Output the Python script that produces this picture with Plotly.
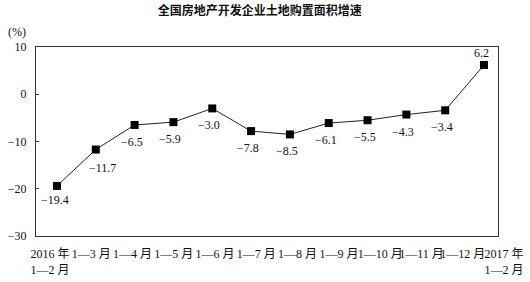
import plotly.graph_objects as go

categories = ["2016 年<br>1—2 月", "1—3 月", "1—4 月", "1—5 月", "1—6 月", "1—7 月",
              "1—8 月", "1—9 月", "1—10 月", "1—11 月", "1—12 月", "2017 年<br>1—2 月"]
values = [-19.4, -11.7, -6.5, -5.9, -3.0, -7.8, -8.5, -6.1, -5.5, -4.3, -3.4, 6.2]
y_ticks = [10, 0, -10, -20, -30]
y_tick_text = ["10", "0", "−10", "−20", "−30"]

# label placement style (pixel offsets from each marker)
label_offsets = [(-2, -14), (7, -18)] + [(-3, -17)] * 9 + [(-3, 12)]

W, H = 530, 282
left_px, right_px = 36, 498
idx = list(range(len(categories)))
data_range = [-0.54, 11.36]

serif = "Liberation Serif, Times New Roman, Noto Sans CJK SC, serif"
ink = "#111111"

fig = go.Figure()
# invisible trace to activate the category label axis (drawn first, below)
fig.add_trace(go.Scatter(x=idx, y=[None] * len(idx), xaxis="x2", yaxis="y",
                         mode="markers", showlegend=False, hoverinfo="skip"))
fig.add_trace(go.Scatter(
    x=idx, y=values, mode="lines+markers",
    line=dict(color="#222222", width=1),
    marker=dict(symbol="square", size=8, color="#000000"),
    cliponaxis=False, showlegend=False,
))

for i, v in enumerate(values):
    dx, dy = label_offsets[i]
    fig.add_annotation(x=i, y=v, xref="x", yref="y", text=f"{v:.1f}".replace("-", "−"),
                       showarrow=False, xshift=dx, yshift=dy,
                       font=dict(family=serif, size=12, color=ink))

fig.update_layout(
    width=W, height=H,
    margin=dict(l=0, r=0, t=47, b=46),
    paper_bgcolor="white", plot_bgcolor="rgba(0,0,0,0)",
    title=dict(text="<b>全国房地产开发企业土地购置面积增速</b>", x=0.49, xanchor="center",
               y=0.96, yanchor="middle",
               font=dict(family="Noto Sans CJK SC", size=12, color=ink)),
    xaxis=dict(domain=[left_px / W, right_px / W], range=data_range,
               showticklabels=False, ticks="", showgrid=False, zeroline=False,
               showline=True, linecolor="#333333", linewidth=1, mirror=True),
    xaxis2=dict(domain=[0, 1], anchor="y", range=[-1.21, 11.63],
                tickmode="array", tickvals=idx, ticktext=categories, tickangle=0,
                showgrid=False, zeroline=False, showline=False, ticks="",
                ticklabelstandoff=9,
                tickfont=dict(family=serif, size=12, color=ink)),
    xaxis3=dict(domain=[left_px / W, right_px / W], anchor="free", position=0.75, side="top",
                range=data_range,
                tickmode="array", tickvals=[i + 0.5 for i in idx[:-1]],
                ticks="outside", ticklen=3, tickcolor="#444444", showticklabels=False,
                showgrid=False, zeroline=False, showline=True, linecolor="#444444", linewidth=1),
    yaxis=dict(anchor="x", range=[-30, 10], tickmode="array", tickvals=y_ticks, ticktext=y_tick_text,
               ticks="inside", ticklen=3, tickcolor="#444444",
               showgrid=False, zeroline=False, showline=True, linecolor="#333333",
               linewidth=1, mirror=True, ticklabelstandoff=6,
               tickfont=dict(family=serif, size=12, color=ink)),
)

fig.add_annotation(text="(%)", xref="paper", yref="paper", x=17 / W, y=(H - 32 - 46) / (H - 93),
                   xanchor="center", yanchor="middle", showarrow=False,
                   font=dict(family=serif, size=12, color=ink))

fig.write_html("out.html")
